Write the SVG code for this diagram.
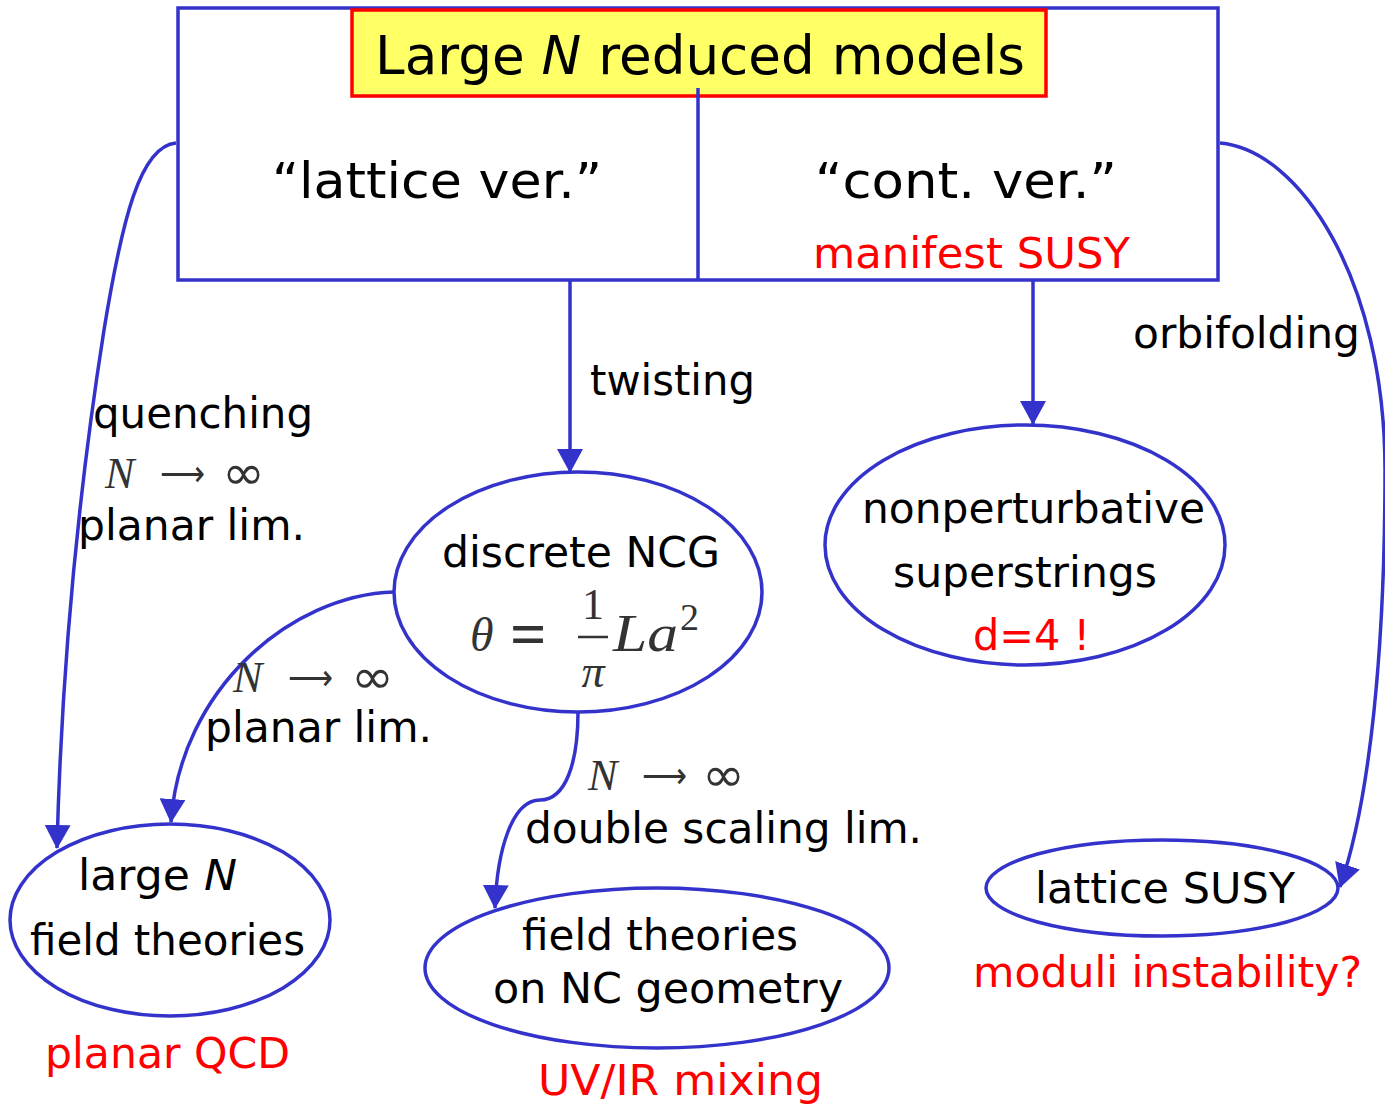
<svg xmlns="http://www.w3.org/2000/svg" width="1385" height="1108" viewBox="0 0 1385 1108">
<style>
text{font-family:"DejaVu Sans","Verdana",sans-serif;fill:#000}
.red{fill:#ff0000}
.node{fill:#fff;stroke:#3333cc;stroke-width:3.5}
.conn{fill:none;stroke:#3333cc;stroke-width:3.5}
.math{font-family:"Liberation Serif","DejaVu Serif",serif;fill:#333}
.sym{font-family:"DejaVu Sans",sans-serif;fill:#333}
.it{font-style:italic}
</style>
<defs>
<marker id="a" viewBox="0 0 24 26" refX="23" refY="13" markerWidth="24" markerHeight="26" markerUnits="userSpaceOnUse" orient="auto">
<path d="M0,0 L24,13 L0,26 Z" fill="#3333cc"/>
</marker>
</defs>

<g id="top">
<rect class="node" x="178" y="8" width="1040" height="272" fill="#fff"/>
<rect x="352" y="10" width="694" height="86" fill="#ffff66" stroke="#ff0000" stroke-width="3.5"/>
<line x1="698" y1="88" x2="698" y2="280" stroke="#3333cc" stroke-width="3.5"/>
<text x="375" y="74" font-size="53" textLength="650" lengthAdjust="spacingAndGlyphs">Large <tspan class="it">N</tspan> reduced models</text>
<text x="272" y="198" font-size="50" textLength="330" lengthAdjust="spacingAndGlyphs">“lattice ver.”</text>
<text x="815" y="198" font-size="50" textLength="302" lengthAdjust="spacingAndGlyphs">“cont. ver.”</text>
<text class="red" x="813" y="268" font-size="42" textLength="317" lengthAdjust="spacingAndGlyphs">manifest SUSY</text>
</g>

<g id="connectors">
<path class="conn" d="M176,143 C140,146 122,220 104,330 C82,470 62,650 57,848" marker-end="url(#a)"/>
<path class="conn" d="M570,280 L570,472" marker-end="url(#a)"/>
<path class="conn" d="M1033,280 L1033,424" marker-end="url(#a)"/>
<path class="conn" d="M1220,143 C1300,150 1385,280 1385,470 C1385,650 1370,800 1340,887" marker-end="url(#a)"/>
<path class="conn" d="M394,592 C290,595 180,690 171,822" marker-end="url(#a)"/>
<path class="conn" d="M578,712 C578,762 566,800 540,800 C512,800 497,850 495,908" marker-end="url(#a)"/>
</g>

<g id="labels">
<text x="590" y="395" font-size="42" textLength="165" lengthAdjust="spacingAndGlyphs">twisting</text>
<text x="1133" y="348" font-size="42" textLength="227" lengthAdjust="spacingAndGlyphs">orbifolding</text>
<text x="93" y="428" font-size="42" textLength="220" lengthAdjust="spacingAndGlyphs">quenching</text>
<g class="mathlabel">
<text class="math it" x="105" y="488" font-size="44">N</text>
<text class="sym" x="160" y="486" font-size="36" textLength="45" lengthAdjust="spacingAndGlyphs">⟶</text>
<text class="sym" x="222" y="489" font-size="48" textLength="43" lengthAdjust="spacingAndGlyphs">∞</text>
</g>
<text x="78" y="540" font-size="42" textLength="227" lengthAdjust="spacingAndGlyphs">planar lim.</text>
<g class="mathlabel">
<text class="math it" x="233" y="692" font-size="44">N</text>
<text class="sym" x="288" y="690" font-size="36" textLength="45" lengthAdjust="spacingAndGlyphs">⟶</text>
<text class="sym" x="351" y="693" font-size="48" textLength="43" lengthAdjust="spacingAndGlyphs">∞</text>
</g>
<text x="205" y="742" font-size="42" textLength="227" lengthAdjust="spacingAndGlyphs">planar lim.</text>
<g class="mathlabel">
<text class="math it" x="588" y="790" font-size="44">N</text>
<text class="sym" x="642" y="788" font-size="36" textLength="45" lengthAdjust="spacingAndGlyphs">⟶</text>
<text class="sym" x="702" y="791" font-size="48" textLength="43" lengthAdjust="spacingAndGlyphs">∞</text>
</g>
<text x="525" y="843" font-size="42" textLength="397" lengthAdjust="spacingAndGlyphs">double scaling lim.</text>
</g>

<g id="ncg">
<ellipse class="node" cx="578" cy="592" rx="184" ry="120"/>
<text x="442" y="567" font-size="42" textLength="278" lengthAdjust="spacingAndGlyphs">discrete NCG</text>
<text class="math it" x="470" y="651" font-size="48">θ</text>
<text class="math" x="510" y="656" font-size="64" font-weight="bold">=</text>
<text class="math" x="593" y="619" font-size="44" text-anchor="middle">1</text>
<line x1="578" y1="637" x2="608" y2="637" stroke="#333" stroke-width="2.5"/>
<text class="math it" x="593" y="687" font-size="46" text-anchor="middle">π</text>
<text class="math it" x="613" y="651" font-size="52" textLength="65" lengthAdjust="spacingAndGlyphs">La</text>
<text class="math" x="680" y="630" font-size="38">2</text>
</g>

<g id="superstrings">
<ellipse class="node" cx="1025" cy="545" rx="200" ry="120"/>
<text x="862" y="523" font-size="42" textLength="343" lengthAdjust="spacingAndGlyphs">nonperturbative</text>
<text x="893" y="587" font-size="42" textLength="264" lengthAdjust="spacingAndGlyphs">superstrings</text>
<text class="red" x="973" y="650" font-size="42" textLength="117" lengthAdjust="spacingAndGlyphs">d=4 !</text>
</g>

<g id="largeN">
<ellipse class="node" cx="170" cy="920" rx="160" ry="96"/>
<text x="78" y="890" font-size="42" textLength="159" lengthAdjust="spacingAndGlyphs">large <tspan class="it">N</tspan></text>
<text x="30" y="955" font-size="42" textLength="275" lengthAdjust="spacingAndGlyphs">field theories</text>
<text class="red" x="45" y="1068" font-size="42" textLength="245" lengthAdjust="spacingAndGlyphs">planar QCD</text>
</g>

<g id="ncfield">
<ellipse class="node" cx="657" cy="968" rx="232" ry="80"/>
<text x="522" y="950" font-size="42" textLength="276" lengthAdjust="spacingAndGlyphs">field theories</text>
<text x="493" y="1003" font-size="42" textLength="350" lengthAdjust="spacingAndGlyphs">on NC geometry</text>
<text class="red" x="538" y="1095" font-size="42" textLength="285" lengthAdjust="spacingAndGlyphs">UV/IR mixing</text>
</g>

<g id="latticeSUSY">
<ellipse class="node" cx="1162" cy="888" rx="176" ry="48"/>
<text x="1035" y="903" font-size="42" textLength="260" lengthAdjust="spacingAndGlyphs">lattice SUSY</text>
<text class="red" x="973" y="987" font-size="42" textLength="389" lengthAdjust="spacingAndGlyphs">moduli instability?</text>
</g>
</svg>
